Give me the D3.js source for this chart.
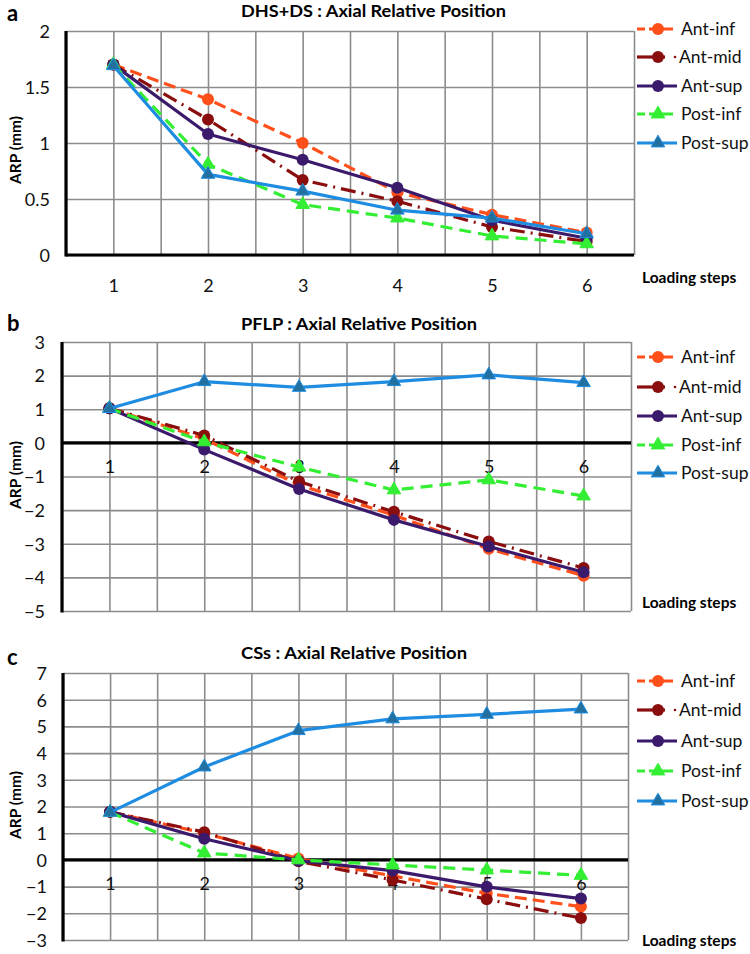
<!DOCTYPE html>
<html><head><meta charset="utf-8">
<script src="https://cdn.jsdelivr.net/npm/d3@7"></script>
<style>
body{margin:0;background:#fff;}
svg{display:block;}
text{font-family:Lato,"Open Sans",sans-serif;}
</style></head>
<body>
<svg id="chart" width="750" height="954"></svg>
<script>
// ---------- DATA ----------
const steps = [1, 2, 3, 4, 5, 6];
const seriesNames = ["Ant-inf", "Ant-mid", "Ant-sup", "Post-inf", "Post-sup"];

// Panel a: DHS+DS
const aAntInf  = [1.70, 1.39, 1.00, 0.56, 0.36, 0.20];
const aAntMid  = [1.70, 1.21, 0.67, 0.48, 0.25, 0.12];
const aAntSup  = [1.70, 1.08, 0.85, 0.60, 0.31, 0.15];
const aPostInf = [1.70, 0.81, 0.45, 0.33, 0.17, 0.10];
const aPostSup = [1.69, 0.72, 0.57, 0.40, 0.33, 0.19];

// Panel b: PFLP
const bAntInf  = [1.03, 0.12, -1.25, -2.15, -3.15, -3.95];
const bAntMid  = [1.03, 0.22, -1.15, -2.05, -2.93, -3.72];
const bAntSup  = [1.03, -0.20, -1.37, -2.29, -3.08, -3.85];
const bPostInf = [1.02, 0.03, -0.72, -1.40, -1.10, -1.58];
const bPostSup = [1.02, 1.82, 1.65, 1.82, 2.02, 1.79];

// Panel c: CSs
const cAntInf  = [1.80, 1.00, 0.05, -0.60, -1.25, -1.75];
const cAntMid  = [1.80, 1.04, -0.05, -0.75, -1.47, -2.18];
const cAntSup  = [1.80, 0.79, -0.03, -0.40, -1.01, -1.45];
const cPostInf = [1.78, 0.26, 0.00, -0.19, -0.38, -0.58];
const cPostSup = [1.78, 3.48, 4.84, 5.28, 5.45, 5.65];

const yTicksA = [0, 0.5, 1, 1.5, 2];
const yTicksB = [-5, -4, -3, -2, -1, 0, 1, 2, 3];
const yTicksC = [-3, -2, -1, 0, 1, 2, 3, 4, 5, 6, 7];

const titles = ["DHS+DS : Axial Relative Position", "PFLP : Axial Relative Position", "CSs : Axial Relative Position"];
const panelLetters = ["a", "b", "c"];
const xLabel = "Loading steps";
const yLabel = "ARP (mm)";

// ---------- STYLES ----------
const styles = {
  "Ant-inf":  {color:"#FF4F1A", dash:"12,6",      marker:"circle"},
  "Ant-mid":  {color:"#8B0E0E", dash:"15,6,2,6",  marker:"circle"},
  "Ant-sup":  {color:"#3B1A6C", dash:null,        marker:"circle"},
  "Post-inf": {color:"#33EE33", dash:"12,7",      marker:"triangle"},
  "Post-sup": {color:"#1E8CE0", dash:null,        marker:"triangle", markerFill:"#21709F"}
};

// ---------- LAYOUT ----------
const panels = [
  {series:[aAntInf,aAntMid,aAntSup,aPostInf,aPostSup], ticks:yTicksA, domain:[0,2], fmt:d3.format("~g"),
   left:66, right:634, top:31, bottom:255, hGrid:0.5, xLabY:286, yTickX:50,
   titleY:17, titleW:265, letterY:21, ylabY:150, lsY:283, legendY:[29,57,86,114,143]},
  {series:[bAntInf,bAntMid,bAntSup,bPostInf,bPostSup], ticks:yTicksB, domain:[-5,3], fmt:d3.format("d"),
   left:62, right:631, top:342, bottom:611, hGrid:1, xLabY:null, yTickX:45,
   titleY:330, titleW:236, letterY:331, ylabY:475, lsY:608, legendY:[357,387,416,445,473]},
  {series:[cAntInf,cAntMid,cAntSup,cPostInf,cPostSup], ticks:yTicksC, domain:[-3,7], fmt:d3.format("d"),
   left:63, right:628, top:673, bottom:940, hGrid:1, xLabY:null, yTickX:47,
   titleY:659, titleW:226, letterY:665, ylabY:805, lsY:946, legendY:[681,710,741,771,801]}
];

const svg = d3.select("#chart");

panels.forEach((p, pi) => {
  const g = svg.append("g");
  const x = d3.scaleLinear().domain([0.5, 6.5]).range([p.left, p.right]);
  const y = d3.scaleLinear().domain(p.domain).range([p.bottom, p.top]);
  const w = p.right - p.left, h = p.bottom - p.top;

  // vertical gridlines every 0.5
  const vg = d3.range(0.5, 6.51, 0.5);
  g.append("g").attr("transform", `translate(0,${p.bottom})`)
    .call(d3.axisBottom(x).tickValues(vg).tickSize(-h).tickFormat(""))
    .call(s => s.select(".domain").remove())
    .call(s => s.selectAll("line").attr("stroke", "#8c8c8c").attr("stroke-width", 1.6));
  // horizontal gridlines
  const hg = d3.range(p.domain[0], p.domain[1] + 1e-9, p.hGrid);
  g.append("g").attr("transform", `translate(${p.left},0)`)
    .call(d3.axisLeft(y).tickValues(hg).tickSize(-w).tickFormat(""))
    .call(s => s.select(".domain").remove())
    .call(s => s.selectAll("line").attr("stroke", "#8c8c8c").attr("stroke-width", 1.6));

  // y tick labels
  g.append("g").attr("transform", `translate(${p.yTickX},0)`)
    .call(d3.axisLeft(y).tickValues(p.ticks).tickSize(0).tickPadding(0).tickFormat(p.fmt))
    .call(s => s.select(".domain").remove())
    .call(s => s.selectAll("text").attr("font-size", 18).attr("fill", "#111")
      .attr("font-family", "Lato, sans-serif").attr("dy", "0.35em"));

  // zero line and left axis
  g.append("line").attr("x1", p.left).attr("x2", p.right).attr("y1", y(0)).attr("y2", y(0))
    .attr("stroke", "#000").attr("stroke-width", 3.2);
  g.append("line").attr("x1", p.left).attr("x2", p.left).attr("y1", p.top).attr("y2", p.bottom + 1.5)
    .attr("stroke", "#000").attr("stroke-width", 3.2);

  // x tick labels
  const xl = p.xLabY !== null ? p.xLabY - 7 : y(0) + 17;
  g.append("g").attr("transform", `translate(0,${xl})`)
    .call(d3.axisBottom(x).tickValues(steps).tickSize(0).tickPadding(0).tickFormat(d3.format("d")))
    .call(s => s.select(".domain").remove())
    .call(s => s.selectAll("text").attr("font-size", 18).attr("fill", "#111")
      .attr("font-family", "Lato, sans-serif").attr("dy", "0.71em"));

  // series
  p.series.forEach((vals, si) => {
    const name = seriesNames[si], st = styles[name];
    const pts = steps.map((s, i) => [x(s), y(vals[i])]);
    g.append("path").attr("d", d3.line()(pts)).attr("fill", "none")
      .attr("stroke", st.color).attr("stroke-width", 3.2)
      .attr("stroke-dasharray", st.dash).attr("stroke-linejoin", "round");
    pts.forEach(pt => {
      if (st.marker === "circle") {
        g.append("circle").attr("cx", pt[0]).attr("cy", pt[1]).attr("r", 6).attr("fill", st.color);
      } else {
        g.append("path").attr("d", d3.symbol(d3.symbolTriangle, 80)())
          .attr("transform", `translate(${pt[0]},${pt[1]})`)
          .attr("fill", st.markerFill || st.color).attr("stroke", st.color).attr("stroke-width", 1);
      }
    });
  });

  // legend
  seriesNames.forEach((name, si) => {
    const st = styles[name], ly = p.legendY[si];
    const lg = g.append("g");
    if (name === "Ant-mid") {
      lg.append("line").attr("x1", 637).attr("x2", 665).attr("y1", ly).attr("y2", ly)
        .attr("stroke", st.color).attr("stroke-width", 3.2);
      lg.append("circle").attr("cx", 675).attr("cy", ly).attr("r", 1.3).attr("fill", st.color);
    } else {
      lg.append("line").attr("x1", 637).attr("x2", 677).attr("y1", ly).attr("y2", ly)
        .attr("stroke", st.color).attr("stroke-width", 3.2)
        .attr("stroke-dasharray", st.dash ? "8,4,24,6" : null);
    }
    if (st.marker === "circle") {
      lg.append("circle").attr("cx", 658).attr("cy", ly).attr("r", 6).attr("fill", st.color);
    } else {
      lg.append("path").attr("d", d3.symbol(d3.symbolTriangle, 80)())
        .attr("transform", `translate(658,${ly})`)
        .attr("fill", st.markerFill || st.color).attr("stroke", st.color).attr("stroke-width", 1);
    }
    lg.append("text").attr("x", name === "Ant-mid" ? 679 : 681).attr("y", ly).attr("dy", "0.35em")
      .attr("font-size", 17.5).attr("fill", "#111").text(name);
  });

  // title
  g.append("text").attr("x", 241).attr("y", p.titleY).attr("font-size", 17)
    .attr("font-weight", "bold").attr("fill", "#000")
    .attr("textLength", p.titleW).attr("lengthAdjust", "spacingAndGlyphs").text(titles[pi]);
  // panel letter
  g.append("text").attr("x", 7).attr("y", p.letterY).attr("font-size", 22)
    .attr("font-weight", "bold").attr("font-family", "'Liberation Serif','DejaVu Serif',serif")
    .attr("fill", "#000").text(panelLetters[pi]);
  // y label
  g.append("text").attr("transform", `translate(21,${p.ylabY}) rotate(-90)`)
    .attr("text-anchor", "middle").attr("font-size", 15.5).attr("font-weight", "bold")
    .attr("fill", "#000").text(yLabel);
  // x label
  g.append("text").attr("x", 642).attr("y", p.lsY).attr("font-size", 15.5)
    .attr("font-weight", "bold").attr("fill", "#000").text(xLabel);
});
</script>
</body></html>
